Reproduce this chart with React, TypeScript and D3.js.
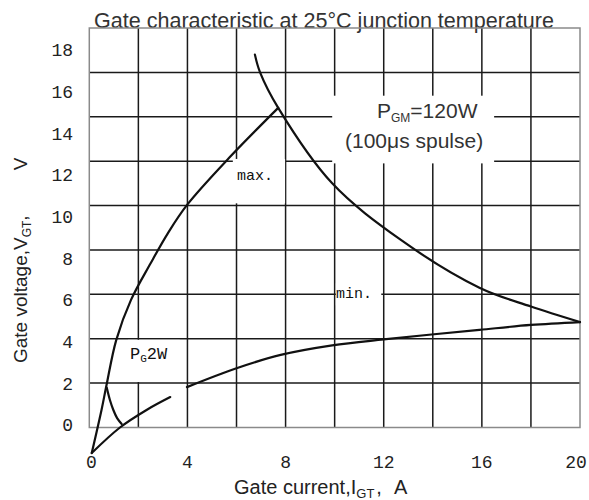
import React from "react";
import * as d3 from "d3";

// ---- data (gate current in A, gate voltage in V) ----
const xTicks = [0, 4, 8, 12, 16, 20];
const yTicks = [0, 2, 4, 6, 8, 10, 12, 14, 16, 18];
const xGrid = [2, 4, 6, 8, 10, 12, 14, 16, 18];
const yGrid = [2, 4, 6, 8, 10, 12, 14, 16];

// max. curve (steep rising curve from origin to the 120 W hyperbola)
const maxI = [0.1, 0.5, 0.7, 1.1, 1.7, 2.5, 3.2, 4.0, 5.7, 7.7];
const maxV = [-1.15, 0.8, 1.9, 3.95, 5.75, 7.4, 8.75, 10.05, 12.15, 14.4];

// P_GM = 120 W limit curve
const pgmI = [6.75, 6.96, 7.7, 9.9, 12.7, 15.9, 18.0, 20.0];
const pgmV = [16.8, 16.0, 14.4, 11.0, 8.45, 6.3, 5.45, 4.75];

// min. curve, first piece
const min1I = [0.1, 1.25, 2.35, 3.3];
const min1V = [-1.15, 0.0, 0.8, 1.37];

// min. curve, second piece
const min2I = [3.98, 6.0, 7.8, 9.9, 12.0, 15.9, 18.0, 20.0];
const min2V = [1.82, 2.67, 3.27, 3.7, 3.97, 4.4, 4.62, 4.75];

// P_G 2 W hook
const pgI = [0.71, 0.84, 0.98, 1.14, 1.32];
const pgV = [1.8, 1.24, 0.79, 0.41, 0.16];

const zip = (a: number[], b: number[]) => a.map((v, i) => [v, b[i]] as [number, number]);

// ---- layout ----
const W = 589;
const H = 500;
const xScale = d3.scaleLinear().domain([0, 20]).range([89.3, 580]);
const yScale = d3.scaleLinear().domain([0, 18]).range([427.5, 28]);
const yLabelScale = d3.scaleLinear().domain([0, 18]).range([425, 50]);

// white boxes behind the in-plot labels (data units: [x0, x1, y0, y1])
const masks: [number, number, number, number][] = [
  [9.9, 16.5, 11.9, 14.95],
  [5.85, 7.98, 10.1, 12.1],
  [10.05, 11.9, 5.5, 6.5],
  [1.58, 3.69, 2.05, 3.95],
];

const sans = "'Liberation Sans', Arial, sans-serif";
const mono = "'Liberation Mono', 'Courier New', monospace";

export default function App() {
  const line = d3
    .line<[number, number]>()
    .x((d) => xScale(d[0]))
    .y((d) => yScale(d[1]))
    .curve(d3.curveCatmullRom.alpha(0.5));

  const curves = [zip(maxI, maxV), zip(pgmI, pgmV), zip(min1I, min1V), zip(min2I, min2V), zip(pgI, pgV)];

  const [x0, x1] = xScale.range();
  const [yb, yt] = yScale.range();

  const xLabelShift = (v: number) => (v === 0 ? 2 : v === 20 ? -4 : 0);

  return (
    <svg width={W} height={H} style={{ position: "absolute", left: 0, top: 0, display: "block", background: "#fff" }}>
      {/* title */}
      <text x={94} y={28} fontFamily={sans} fontSize={21.5} fill="#333" textLength={460} lengthAdjust="spacingAndGlyphs">
        Gate characteristic at 25°C junction temperature
      </text>

      {/* inner grid */}
      {xGrid.map((v) => (
        <line key={"gx" + v} x1={xScale(v)} x2={xScale(v)} y1={yb} y2={yt} stroke="#1a1a1a" strokeWidth={1.5} />
      ))}
      {yGrid.map((v) => (
        <line key={"gy" + v} x1={x0} x2={x1} y1={yScale(v)} y2={yScale(v)} stroke="#1a1a1a" strokeWidth={1.5} />
      ))}

      {/* masks behind labels */}
      {masks.map((m, i) => (
        <rect
          key={"m" + i}
          x={xScale(m[0])}
          y={yScale(m[3])}
          width={xScale(m[1]) - xScale(m[0])}
          height={yScale(m[2]) - yScale(m[3])}
          fill="#fff"
        />
      ))}

      {/* frame */}
      <rect x={x0} y={yt} width={x1 - x0} height={yb - yt} fill="none" stroke="#8a8a8a" strokeWidth={1.5} />

      {/* curves */}
      {curves.map((c, i) => (
        <path key={"c" + i} d={line(c) || ""} fill="none" stroke="#111" strokeWidth={2.2} strokeLinejoin="round" strokeLinecap="round" />
      ))}

      {/* x tick labels */}
      {xTicks.map((v) => (
        <text key={"xt" + v} x={xScale(v) + xLabelShift(v)} y={468} textAnchor="middle" fontFamily={mono} fontSize={18} fill="#222">
          {v}
        </text>
      ))}
      {/* y tick labels */}
      {yTicks.map((v) => (
        <text key={"yt" + v} x={73} y={yLabelScale(v)} dy="0.35em" textAnchor="end" fontFamily={mono} fontSize={18} fill="#222">
          {v}
        </text>
      ))}

      {/* axis titles */}
      <text x={234} y={494} fontFamily={sans} fontSize={20} fill="#222">
        Gate current,I
        <tspan fontSize={13} dy={4}>GT</tspan>
        <tspan dy={-4} dx={2}>,</tspan>
        <tspan dx={12}>A</tspan>
      </text>
      <text transform="translate(27,363) rotate(-90)" fontFamily={sans} fontSize={19} fill="#222">
        Gate voltage,V
        <tspan fontSize={12} dy={4}>GT</tspan>
        <tspan dy={-4}>,</tspan>
        <tspan dx={45}>V</tspan>
      </text>

      {/* in-plot annotations */}
      <text x={377} y={118} fontFamily={sans} fontSize={21} fill="#333">
        P<tspan fontSize={12} dy={4}>GM</tspan>
        <tspan dy={-4}>=120W</tspan>
      </text>
      <text x={345} y={148} fontFamily={sans} fontSize={21} fill="#333">
        (100μs spulse)
      </text>
      <text x={237} y={180} fontFamily={mono} fontSize={15} fill="#111">
        max.
      </text>
      <text x={336} y={298} fontFamily={mono} fontSize={15} fill="#111">
        min.
      </text>
      <text x={130} y={359} fontFamily={mono} fontSize={17} fill="#111">
        P<tspan fontSize={11} dy={3}>G</tspan>
        <tspan dy={-3}>2W</tspan>
      </text>
    </svg>
  );
}
